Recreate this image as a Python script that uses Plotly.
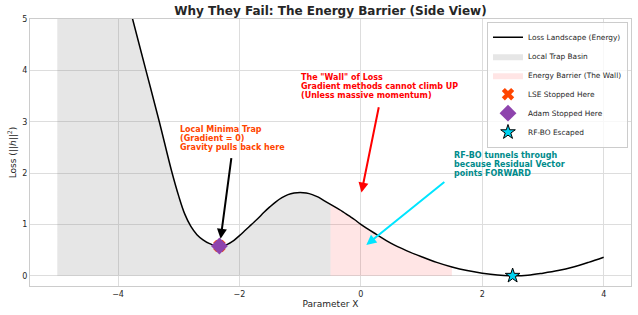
import plotly.graph_objects as go

# ---- data ----
curve_x = [-5.0, -4.5, -4.0, -3.76, -3.54, -3.32, -3.12, -3.0, -2.9, -2.8, -2.7, -2.6, -2.5,
           -2.4, -2.33, -2.2, -2.1, -2.0, -1.9, -1.8, -1.7, -1.6, -1.5, -1.4, -1.3, -1.2,
           -1.1, -1.0, -0.9, -0.8, -0.7, -0.6, -0.5, -0.4, -0.3, -0.2, -0.1, 0.0, 0.25,
           0.5, 0.75, 1.0, 1.25, 1.5, 1.75, 2.0, 2.25, 2.5, 2.75, 3.0, 3.25, 3.5, 3.75, 4.0]
curve_y = [10.7, 8.4, 6.1, 5.0, 4.0, 3.0, 2.05, 1.55, 1.2, 0.96, 0.8, 0.7, 0.63,
           0.59, 0.58, 0.61, 0.68, 0.78, 0.89, 1.0, 1.11, 1.23, 1.34, 1.44, 1.52, 1.58,
           1.61, 1.62, 1.61, 1.58, 1.53, 1.46, 1.39, 1.32, 1.25, 1.17, 1.09, 1.0, 0.81,
           0.63, 0.49, 0.37, 0.26, 0.17, 0.1, 0.05, 0.015, 0.0, 0.01, 0.05, 0.1, 0.17, 0.26, 0.36]

basin_range = (-5.0, -0.5)
wall_range = (-0.5, 1.5)

lse_stop = (-2.33, 0.58)
adam_stop = (-2.33, 0.58)
rfbo_escape = (2.5, 0.0)

x_ticks = [-4, -2, 0, 2, 4]
y_ticks = [0, 1, 2, 3, 4, 5]

title = "Why They Fail: The Energy Barrier (Side View)"
names = ["Loss Landscape (Energy)", "Local Trap Basin", "Energy Barrier (The Wall)",
         "LSE Stopped Here", "Adam Stopped Here", "RF-BO Escaped"]

# annotations: lines, text anchor (x, y top), arrow tail, arrow head, colours
notes = [
    dict(lines=["Local Minima Trap", "(Gradient = 0)", "Gravity pulls back here"],
         pos=(-3.0, 2.95), tail=(-2.13, 2.32), head=(-2.31, 0.72),
         color="#FF4500", arrow="#000000"),
    dict(lines=['The "Wall" of Loss', "Gradient methods cannot climb UP", "(Unless massive momentum)"],
         pos=(-1.0, 3.97), tail=(0.30, 3.31), head=(0.01, 1.62),
         color="#FF0000", arrow="#FF0000"),
    dict(lines=["RF-BO tunnels through", "because Residual Vector", "points FORWARD"],
         pos=(1.51, 2.45), tail=(1.40, 1.85), head=(0.09, 0.60),
         color="#008B8B", arrow="#00E5FF"),
]

FONT = "DejaVu Sans"
TXT = "#262626"

def subset(lo, hi):
    xs, ys = [], []
    for x, y in zip(curve_x, curve_y):
        if lo <= x <= hi:
            xs.append(x)
            ys.append(y)
    return xs, ys

fig = go.Figure()

bx, by = subset(*basin_range)
fig.add_trace(go.Scatter(x=bx, y=by, mode="lines", fill="tozeroy",
                         line=dict(width=0, shape="spline", color="rgba(0,0,0,0)"),
                         fillcolor="rgba(128,128,128,0.2)", name=names[1]))
wx, wy = subset(*wall_range)
fig.add_trace(go.Scatter(x=wx, y=wy, mode="lines", fill="tozeroy",
                         line=dict(width=0, shape="spline", color="rgba(0,0,0,0)"),
                         fillcolor="rgba(255,0,0,0.1)", name=names[2]))
fig.add_trace(go.Scatter(x=curve_x, y=curve_y, mode="lines",
                         line=dict(color="black", width=1.5, shape="spline", smoothing=1.0),
                         name=names[0]))
fig.add_trace(go.Scatter(x=[lse_stop[0]], y=[lse_stop[1]], mode="markers",
                         marker=dict(symbol="x", size=11, color="#FF4500", line=dict(width=0)),
                         name=names[3]))
fig.add_trace(go.Scatter(x=[adam_stop[0]], y=[adam_stop[1]], mode="markers",
                         marker=dict(symbol="diamond", size=13, color="#8E44AD", line=dict(width=0)),
                         name=names[4]))
fig.add_trace(go.Scatter(x=[rfbo_escape[0]], y=[rfbo_escape[1]], mode="markers",
                         marker=dict(symbol="star", size=11, color="#00D2F0",
                                     line=dict(width=1, color="black")),
                         name=names[5]))

# legend order as in reference
order = {names[0]: 1, names[1]: 2, names[2]: 3, names[3]: 4, names[4]: 5, names[5]: 6}
for tr in fig.data:
    tr.legendrank = order[tr.name]

pitch = 9
for n in notes:
    for i, ln in enumerate(n["lines"]):
        fig.add_annotation(x=n["pos"][0], y=n["pos"][1], xref="x", yref="y",
                           text="<b>" + ln + "</b>", showarrow=False,
                           xanchor="left", yanchor="top", yshift=-i * pitch,
                           font=dict(family=FONT, size=8, color=n["color"]),
                           borderpad=0)
    fig.add_annotation(x=n["head"][0], y=n["head"][1], ax=n["tail"][0], ay=n["tail"][1],
                       xref="x", yref="y", axref="x", ayref="y", text="",
                       showarrow=True, arrowhead=2, arrowsize=1.0, arrowwidth=2,
                       arrowcolor=n["arrow"], standoff=0, startstandoff=0)

fig.update_layout(
    width=638, height=315,
    margin=dict(l=30, r=7, t=19, b=29),
    paper_bgcolor="white", plot_bgcolor="white",
    font=dict(family=FONT, color=TXT),
    title=dict(text="<b>" + title + "</b>", xref="paper", x=0.5, xanchor="center",
               y=0.965, yanchor="middle", font=dict(size=12, color=TXT)),
    showlegend=True,
    legend=dict(x=0.995, y=0.99, xanchor="right", yanchor="top",
                bgcolor="rgba(255,255,255,0.8)", bordercolor="#cccccc", borderwidth=1,
                font=dict(size=7.4, color=TXT), tracegroupgap=0, itemsizing="trace",
                itemwidth=30),
)
fig.update_xaxes(range=[-5.45, 4.45], tickvals=x_ticks, showgrid=True, gridcolor="#dddddd",
                 gridwidth=1, zeroline=False, showline=True, linecolor="#cccccc", linewidth=1.25,
                 mirror=True, ticks="", tickfont=dict(size=8, color=TXT), automargin=False,
                 title=dict(text="Parameter X", font=dict(size=9, color=TXT), standoff=1))
fig.update_yaxes(range=[-0.2, 5], tickvals=y_ticks, showgrid=True, gridcolor="#dddddd",
                 gridwidth=1, zeroline=False, showline=True, linecolor="#cccccc", linewidth=1.25,
                 mirror=True, ticks="", tickfont=dict(size=8, color=TXT), automargin=False,
                 title=dict(text="Loss (||<i>h</i>||<sup>2</sup>)", font=dict(size=9, color=TXT),
                            standoff=4))

fig.write_html("out.html")
